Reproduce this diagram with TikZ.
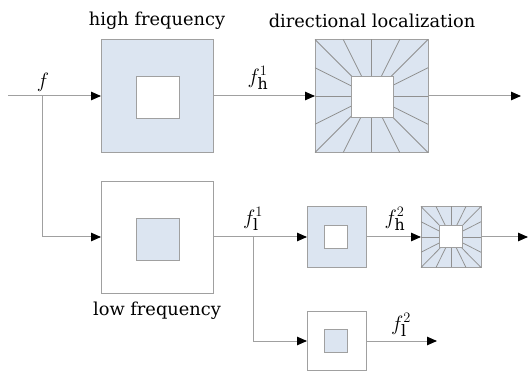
\documentclass[tikz,border=0pt]{standalone}
\usepackage{fontspec}
\setmainfont{DejaVu Serif}
\usetikzlibrary{arrows.meta}
\definecolor{panel}{RGB}{220,229,241}
\definecolor{edge}{RGB}{160,160,160}
\definecolor{wirec}{RGB}{160,160,160}

\begin{document}
\begin{tikzpicture}[x=1pt,y=-1pt,
  frame/.style 2 args={draw=edge,line width=0.9pt,minimum width=#1,minimum height=#2,inner sep=0pt,outer sep=0pt},
  wire/.style={draw=wirec,line width=1pt},
  feed/.style={wire,-{Triangle[length=10pt,width=8.5pt,black]}},
  ray/.style={draw=edge!90!black,line width=0.75pt},
  heading/.style={font=\fontsize{17.8}{21}\selectfont,inner sep=0pt},
  sig/.style={font=\fontsize{22.5}{26}\selectfont,inner sep=0pt}]
\useasboundingbox (0,0) rectangle (530,371);

% first level: high-pass (blue ring, white centre)
\node[frame={112pt}{113pt},fill=panel] (hp1) at (157,96) {};
\node[frame={43pt}{42pt},fill=white] (hp1c) at (157.5,97) {};

% directional filter bank on the high band
\node[frame={113pt}{113pt},fill=panel] (dfb1) at (371.5,96) {};
\foreach \u/\v in {-1/-1,-0.5/-1,0/-1,0.5/-1,1/-1,1/-0.5,1/0,1/0.5,1/1,0.5/1,0/1,-0.5/1,-1/1,-1/0.5,-1/0,-1/-0.5}
  \draw[ray,shift={(dfb1.center)}] (0,0) -- (\u*56.5,\v*56.5);
\node[frame={42pt}{41pt},fill=white] (dfb1c) at (372,96.5) {};

% first level: low-pass (white ring, blue centre)
\node[frame={112pt}{112pt},fill=white] (lp1) at (157,237) {};
\node[frame={43pt}{42pt},fill=panel] (lp1c) at (157.5,239) {};

% second level: high-pass
\node[frame={59pt}{61pt},fill=panel] (hp2) at (336.5,237) {};
\node[frame={23pt}{23pt},fill=white] (hp2c) at (335.5,236.5) {};

% second level: directional filter bank
\node[frame={60pt}{61pt},fill=panel] (dfb2) at (451,237) {};
\foreach \u/\v in {-1/-1,-0.5/-1,0/-1,0.5/-1,1/-1,1/-0.5,1/0,1/0.5,1/1,0.5/1,0/1,-0.5/1,-1/1,-1/0.5,-1/0,-1/-0.5}
  \draw[ray,shift={(dfb2.center)}] (0,0) -- (\u*30,\v*30.5);
\node[frame={23pt}{22pt},fill=white] (dfb2c) at (450.5,236.5) {};

% second level: low-pass
\node[frame={59pt}{59pt},fill=white] (lp2) at (336.5,341) {};
\node[frame={23pt}{23pt},fill=panel] (lp2c) at (335.5,341) {};

% signal flow
\coordinate (in) at (8,96);
\coordinate (split0) at (42,96);
\coordinate (split1) at (253,237);
\coordinate (out1) at (521,96);
\coordinate (out2) at (528,237);
\coordinate (out3) at (437,341);

\draw[feed] (in) -- (hp1.west);
\draw[feed] (split0) |- (lp1.west);
\draw[feed] (hp1.east) -- (dfb1.west);
\draw[feed] (dfb1.east) -- (out1);
\draw[feed] (lp1.east) -- (hp2.west);
\draw[feed] (split1) |- (lp2.west);
\draw[feed] (hp2.east) -- (dfb2.west);
\draw[feed] (dfb2.east) -- (out2);
\draw[feed] (lp2.east) -- (out3);

% signal labels
\node[sig] (f0) at (43,82) {$f$};
\node[sig] (fh1) at (258,78) {$f^{1}_{\mathrm{h}}$};
\node[sig] (fl1) at (253,219) {$f^{1}_{\mathrm{l}}$};
\node[sig] (fh2) at (395,219) {$f^{2}_{\mathrm{h}}$};
\node[sig] (fl2) at (401,325) {$f^{2}_{\mathrm{l}}$};

% captions
\node[heading] (thigh) at (157,21) {high frequency};
\node[heading] (tdir) at (372,21) {directional localization};
\node[heading] (tlow) at (157,311) {low frequency};
\end{tikzpicture}
\end{document}
